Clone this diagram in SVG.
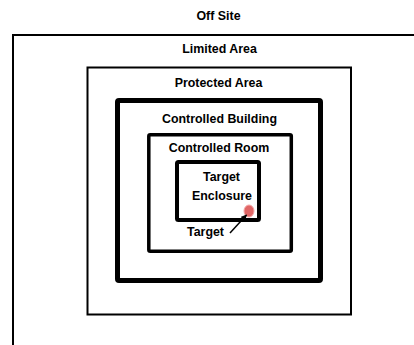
<svg xmlns="http://www.w3.org/2000/svg" width="414" height="345" viewBox="0 0 414 345">
  <defs>
    <style>
      .lbl { font-family: "Liberation Sans", Arial, sans-serif; font-size: 12.4px; font-weight: bold; fill: #000; text-anchor: middle; }
      .zone { fill: none; stroke: #000; }
    </style>
    <marker id="arrow" viewBox="0 0 10 10" refX="9" refY="5" markerWidth="4" markerHeight="4" orient="auto">
      <path d="M0,0 L10,5 L0,10 z" fill="#000"/>
    </marker>
  </defs>
  <rect width="414" height="345" fill="#fff"/>

  <g id="off-site">
    <text class="lbl" x="218.5" y="20">Off Site</text>
  </g>

  <g id="limited-area">
    <rect class="zone" x="13" y="35" width="420" height="330" stroke-width="2"/>
    <text class="lbl" x="219.5" y="53">Limited Area</text>
  </g>

  <g id="protected-area">
    <rect class="zone" x="87.5" y="67.5" width="263.5" height="247" stroke-width="2"/>
    <text class="lbl" x="218.5" y="87">Protected Area</text>
  </g>

  <g id="controlled-building">
    <rect class="zone" x="117.5" y="100.5" width="203" height="180" rx="1.5" stroke-width="5"/>
    <text class="lbl" x="219.5" y="123">Controlled Building</text>
  </g>

  <g id="controlled-room">
    <rect class="zone" x="148.8" y="134.8" width="142.5" height="116.5" rx="1.5" stroke-width="3.5"/>
    <text class="lbl" x="219" y="152">Controlled Room</text>
  </g>

  <g id="target-enclosure">
    <rect class="zone" x="177" y="162" width="82" height="58" rx="1.5" stroke-width="4"/>
    <text class="lbl" x="221.5" y="181">Target</text>
    <text class="lbl" x="222" y="200">Enclosure</text>
  </g>

  <g id="target">
    <ellipse cx="249" cy="211" rx="5" ry="6" fill="#e06666" stroke="#f4a3a3" stroke-width="1"/>
    <text class="lbl" x="205.5" y="236">Target</text>
  </g>

  <g id="connectors">
    <line x1="230" y1="233" x2="246.5" y2="215" stroke="#000" stroke-width="1.5" marker-end="url(#arrow)"/>
  </g>
</svg>
